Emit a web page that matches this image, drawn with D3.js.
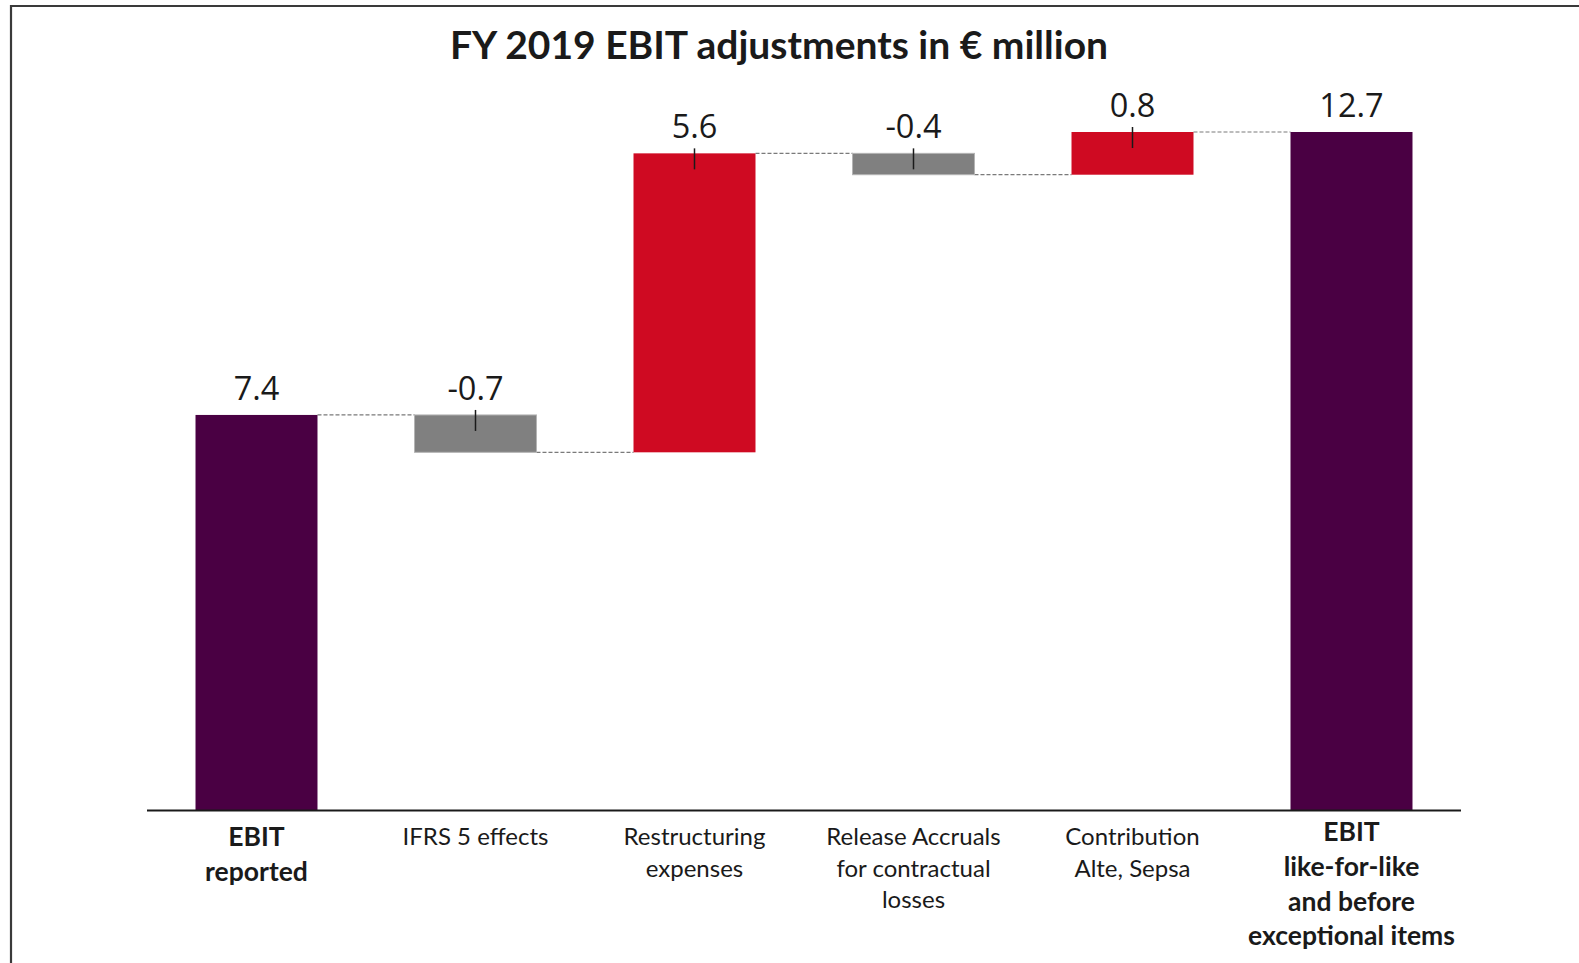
<!DOCTYPE html>
<html>
<head>
<meta charset="utf-8">
<script src="https://cdn.jsdelivr.net/npm/d3@7"></script>
<style>
  html, body { margin: 0; padding: 0; background: #fff; }
  svg { display: block; }
</style>
</head>
<body>
<svg id="chart" width="1579" height="963"></svg>
<script>
// EBIT bridge, FY 2019 (€ million)
const categories = [
  "EBIT reported",
  "IFRS 5 effects",
  "Restructuring expenses",
  "Release Accruals for contractual losses",
  "Contribution Alte, Sepsa",
  "EBIT like-for-like and before exceptional items"
];
const labelLines = [
  ["EBIT", "reported"],
  ["IFRS 5 effects"],
  ["Restructuring", "expenses"],
  ["Release Accruals", "for contractual", "losses"],
  ["Contribution", "Alte, Sepsa"],
  ["EBIT", "like-for-like", "and before", "exceptional items"]
];
const values = [7.4, -0.7, 5.6, -0.4, 0.8, 12.7];
const kinds = ["total", "delta", "delta", "delta", "delta", "total"];
const valueLabels = ["7.4", "-0.7", "5.6", "-0.4", "0.8", "12.7"];
const titleText = "FY 2019 EBIT adjustments in \u20AC million";

const colors = { total: "#4a0043", up: "#cf0a22", down: "#808080" };

const svg = d3.select("#chart");

// frame lines (top and left)
svg.append("path")
  .attr("d", "M11,963 L11,6 L1579,6")
  .attr("fill", "none")
  .attr("stroke", "#3a3a3a")
  .attr("stroke-width", 2.2);

// waterfall segments
let running = 0;
const bars = values.map((v, i) => {
  let start, end;
  if (kinds[i] === "total") { start = 0; end = v; running = v; }
  else { start = running; end = running + v; running = end; }
  return { i, v, start, end, kind: kinds[i], lines: labelLines[i], label: valueLabels[i], name: categories[i] };
});

const x = d3.scaleBand()
  .domain(categories)
  .range([147, 1461])
  .paddingInner(0.443)
  .paddingOuter(0.2215);

const y = d3.scaleLinear()
  .domain([0, 12.7])
  .range([810, 132]);

const bw = x.bandwidth();

function fillOf(d) {
  if (d.kind === "total") return colors.total;
  return d.v >= 0 ? colors.up : colors.down;
}

// connector lines between bars
const links = bars.slice(0, -1).map((d, k) => ({ from: d, to: bars[k + 1] }));
svg.append("g").selectAll("line")
  .data(links)
  .join("line")
  .attr("x1", d => x(d.from.name) + bw)
  .attr("x2", d => x(d.to.name))
  .attr("y1", d => y(d.from.end))
  .attr("y2", d => y(d.from.end))
  .attr("stroke", "#7a7a7a")
  .attr("stroke-width", 1.2)
  .attr("stroke-dasharray", "4,2");

// bars
svg.append("g").selectAll("rect")
  .data(bars)
  .join("rect")
  .attr("x", d => x(d.name))
  .attr("width", bw)
  .attr("y", d => y(Math.max(d.start, d.end)))
  .attr("height", d => Math.abs(y(d.start) - y(d.end)))
  .attr("fill", fillOf)
  .attr("stroke", d => d.kind === "delta" && d.v < 0 ? "#b4b4b4" : "none")
  .attr("stroke-width", 1);

// small markers on the adjustment bars
svg.append("g").selectAll("line")
  .data(bars.filter(d => d.kind === "delta"))
  .join("line")
  .attr("x1", d => x(d.name) + bw / 2)
  .attr("x2", d => x(d.name) + bw / 2)
  .attr("y1", d => y(Math.max(d.start, d.end)) - 5)
  .attr("y2", d => y(Math.max(d.start, d.end)) + 16)
  .attr("stroke", "#1a1a1a")
  .attr("stroke-width", 1.5);

// value labels
svg.append("g").selectAll("text")
  .data(bars)
  .join("text")
  .attr("x", d => x(d.name) + bw / 2)
  .attr("y", d => y(Math.max(d.start, d.end)) - 15)
  .attr("text-anchor", "middle")
  .attr("font-family", "'Open Sans', sans-serif")
  .attr("font-size", 32.5)
  .attr("fill", "#1a1a1a")
  .text(d => d.label);

// baseline axis
svg.append("line")
  .attr("x1", 147).attr("x2", 1461)
  .attr("y1", y(0) + 0.5).attr("y2", y(0) + 0.5)
  .attr("stroke", "#1a1a1a")
  .attr("stroke-width", 2);

// category labels
const catG = svg.append("g");
bars.forEach(d => {
  const bold = d.kind === "total";
  const step = bold ? 34.8 : 31.7;
  const first = bold ? (d.lines.length > 3 ? 841 : 846) : 845;
  const t = catG.append("text")
    .attr("text-anchor", "middle")
    .attr("font-family", "Lato, 'Open Sans', sans-serif")
    .attr("font-size", bold ? 26.5 : 24)
    .attr("font-weight", bold ? 700 : 400)
    .attr("fill", "#1a1a1a");
  d.lines.forEach((ln, j) => {
    t.append("tspan")
      .attr("x", x(d.name) + bw / 2)
      .attr("y", first + j * step)
      .text(ln);
  });
});

// title
svg.append("text")
  .attr("x", 779)
  .attr("y", 59)
  .attr("text-anchor", "middle")
  .attr("font-family", "Lato, 'Open Sans', sans-serif")
  .attr("font-weight", 700)
  .attr("font-size", 39)
  .attr("fill", "#1a1a1a")
  .text(titleText);
</script>
</body>
</html>
